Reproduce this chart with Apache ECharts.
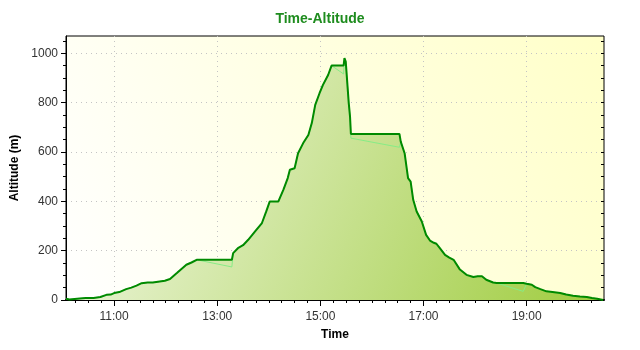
<!DOCTYPE html>
<html>
<head>
<meta charset="utf-8">
<script src="https://cdn.jsdelivr.net/npm/echarts@6/dist/echarts.min.js"></script>
<style>html,body{margin:0;padding:0;background:#fff;}#c{width:640px;height:350px;}</style>
</head>
<body>
<div id="c"></div>
<script>
// time in minutes since midnight
const times = [604,608,614,620,627,636,644,651,656,660,666,674,680,686,692,699,705,713,719,725,733,738,744,750,756,
  797,798.5,804,810,816,824,832,837,841,851,857,862,864.5,870,874,880,886,890,894,899,903,909,913,927,928,929.5,933,934.5,935.5,
  992,993.5,998,1002,1005,1008,1012,1018,1023,1027.5,1032,1035,1039,1045,1050,1055,1062,1070,1078,1083,1088,1093,1101,1105,
  1136,1140,1146,1150,1156,1163,1170,1179,1186,1194,1202,1210,1216,1222,1229];
// altitude of the processed track (dark line)
const altitude = [5,2,4,6,8,8,12,21,22,28,32,44,50,58,68,71,71,75,78,85,109,125,143,152,163,
  163,190,210,222,244,278,312,359,399,399,447,494,528,534,595,636,669,717,791,838,872,912,950,950,980,966,798,743,673,
  673,642,595,494,480,406,359,318,264,241,232,228,210,183,172,163,125,102,93,96,96,82,71,69,
  69,66,62,52,44,35,32,28,22,17,14,12,8,5,0];
// altitude of the raw track (light line)
const altitudeRaw = [5,2,4,6,8,8,12,21,22,28,32,44,50,58,68,71,71,75,78,85,109,125,143,152,163,
  134,190,210,222,244,278,312,359,399,399,447,494,528,534,595,636,669,717,791,838,872,912,950,916,980,966,798,743,656,
  619,642,595,494,480,406,359,318,264,241,232,228,210,183,172,163,125,102,93,96,96,82,71,69,
  35,66,62,52,44,35,32,28,22,17,14,12,8,5,0];
const hourTicks = [660,780,900,1020,1140];
const altTicks = [0,200,400,600,800,1000];
const tMin = 604, tMax = 1230, aMax = 1070;

const quarterTicks = [];
for (let t = 615; t < tMax; t += 15) if (hourTicks.indexOf(t) < 0) quarterTicks.push(t);
const minorAlt = [];
for (let a = 50; a < aMax; a += 50) if (altTicks.indexOf(a) < 0) minorAlt.push(a);
const allAlt = [];
for (let a = 50; a < aMax; a += 50) allAlt.push(a);
const allQuarter = [];
for (let t = 615; t < tMax; t += 15) allQuarter.push(t);

const dark = times.map((t,i)=>[t, altitude[i]]);
const raw = times.map((t,i)=>[t, altitudeRaw[i]]);
const fmt = v => { const h = Math.floor(v/60), m = Math.round(v%60); return h + ':' + (m<10?'0':'') + m; };
const F = 'Liberation Sans, Arial, sans-serif';

const chart = echarts.init(document.getElementById('c'), null, {renderer:'canvas'});
chart.setOption({
  animation:false,
  backgroundColor:'#fff',
  title:{text:'Time-Altitude', left:'center', top:7, textStyle:{color:'#1e8c1e', fontSize:14, fontWeight:'bold', fontFamily:F}},
  grid:{left:66, right:36, top:36, bottom:50, show:true, borderColor:'#000', borderWidth:1,
    backgroundColor:{type:'linear', x:0, y:1, x2:1, y2:0, colorStops:[{offset:0,color:'#ffffff'},{offset:1,color:'#ffffc8'}]}},
  xAxis:[
    {type:'value', min:tMin, max:tMax, position:'bottom',
     axisLine:{show:true, lineStyle:{color:'#000', width:2}},
     axisTick:{show:true, customValues:hourTicks, length:6, lineStyle:{color:'#000'}},
     axisLabel:{customValues:hourTicks, formatter:fmt, color:'#333', fontSize:12, fontFamily:F, margin:11},
     splitLine:{show:true, lineStyle:{color:'#c4c4c4', type:[1,4]}},
     name:'Time', nameLocation:'middle', nameGap:29, nameTextStyle:{color:'#000', fontWeight:'bold', fontSize:12, fontFamily:F}},
    {type:'value', min:tMin, max:tMax, position:'bottom', axisLine:{show:false},
     axisTick:{show:true, customValues:quarterTicks, length:3, lineStyle:{color:'#000'}},
     axisLabel:{show:false}, splitLine:{show:false}},
    {type:'value', min:tMin, max:tMax, position:'top', axisLine:{show:false},
     axisTick:{show:true, inside:true, customValues:allQuarter, length:3, lineStyle:{color:'#000'}},
     axisLabel:{show:false}, splitLine:{show:false}}
  ],
  yAxis:[
    {type:'value', min:0, max:aMax, interval:200,
     axisLine:{show:true, lineStyle:{color:'#000', width:1}},
     axisTick:{show:true, customValues:altTicks, length:5, lineStyle:{color:'#000'}},
     axisLabel:{customValues:altTicks, formatter:v=>String(v), color:'#333', fontSize:12, fontFamily:F, margin:8},
     splitLine:{show:true, lineStyle:{color:'#c4c4c4', type:[1,4]}},
     name:'Altitude (m)', nameLocation:'middle', nameGap:45, nameTextStyle:{color:'#000', fontWeight:'bold', fontSize:12, fontFamily:F}},
    {type:'value', min:0, max:aMax, position:'left', axisLine:{show:false},
     axisTick:{show:true, customValues:minorAlt, length:3, lineStyle:{color:'#000'}},
     axisLabel:{show:false}, splitLine:{show:false}},
    {type:'value', min:0, max:aMax, position:'right', axisLine:{show:false},
     axisTick:{show:true, inside:true, customValues:allAlt, length:3, lineStyle:{color:'#000'}},
     axisLabel:{show:false}, splitLine:{show:false}}
  ],
  series:[
    {type:'line', data:dark, xAxisIndex:0, yAxisIndex:0, showSymbol:false, z:1,
     lineStyle:{width:0, opacity:0},
     areaStyle:{opacity:1, color:{type:'linear', x:0, y:0, x2:1, y2:1, colorStops:[{offset:0,color:'#f6faee'},{offset:1,color:'#9fcc3e'}]}}},
    {type:'line', data:raw, xAxisIndex:0, yAxisIndex:0, showSymbol:false, z:2,
     lineStyle:{color:'#86ec86', width:1}},
    {type:'line', data:dark, xAxisIndex:0, yAxisIndex:0, showSymbol:false, z:3,
     lineStyle:{color:'#008a00', width:2}}
  ]
});
</script>
</body>
</html>
